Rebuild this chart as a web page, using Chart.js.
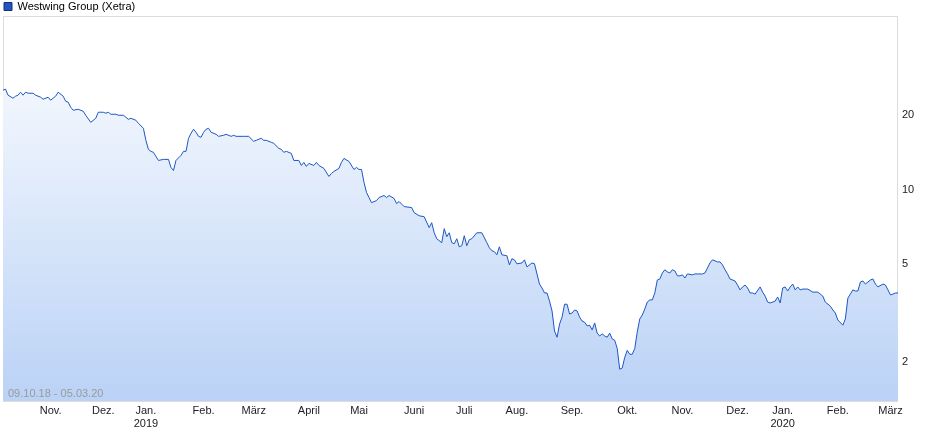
<!DOCTYPE html>
<html>
<head>
<meta charset="utf-8">
<script src="https://cdn.jsdelivr.net/npm/chart.js@4.4.1/dist/chart.umd.min.js"></script>
<style>
  html, body { margin: 0; padding: 0; background: #fff; }
  canvas { display: block; }
</style>
</head>
<body>
<canvas id="chart" width="940" height="435"></canvas>
<script>
// Westwing Group (Xetra), daily close, 09.10.18 - 05.03.20
// x = trading day index since 09.10.18
const seriesName = 'Westwing Group (Xetra)';
const rangeText = '09.10.18 - 05.03.20';

const tradingDay = [
  0, 1, 2, 4, 5, 6, 7, 8, 9, 10, 12, 13, 15, 16, 18, 19, 20, 21, 22, 24,
  25, 26, 27, 28, 30, 32, 33, 35, 37, 38, 39, 40, 41, 42, 43, 45, 46, 48, 49, 50,
  51, 53, 54, 56, 57, 58, 59, 60, 61, 62, 64, 66, 67, 68, 69, 71, 72, 73, 74, 75,
  76, 77, 78, 79, 80, 81, 82, 83, 85, 86, 88, 89, 91, 92, 93, 96, 98, 100, 101, 103,
  104, 105, 107, 108, 110, 111, 112, 113, 115, 116, 118, 119, 120, 121, 122, 124, 125, 126, 128, 130,
  131, 132, 134, 135, 136, 138, 140, 141, 142, 143, 144, 145, 146, 147, 149, 150, 152, 153, 154, 156,
  157, 158, 160, 163, 164, 166, 168, 170, 171, 172, 173, 175, 176, 177, 178, 179, 180, 181, 182, 183,
  184, 185, 186, 187, 189, 191, 193, 194, 195, 196, 197, 198, 199, 201, 202, 203, 204, 205, 207, 208,
  209, 211, 212, 213, 214, 215, 216, 217, 218, 219, 220, 221, 222, 223, 224, 225, 226, 227, 228, 229,
  230, 231, 232, 233, 234, 235, 236, 237, 238, 239, 240, 241, 242, 243, 244, 245, 246, 247, 248, 249,
  250, 251, 252, 253, 254, 255, 256, 257, 258, 259, 260, 261, 262, 263, 264, 265, 266, 267, 268, 269,
  270, 271, 272, 273, 275, 276, 277, 279, 280, 281, 282, 283, 285, 286, 287, 288, 289, 290, 292, 293,
  294, 295, 296, 297, 298, 299, 300, 302, 303, 304, 305, 306, 308, 309, 310, 311, 312, 313, 314, 315,
  316, 317, 318, 319, 320, 321, 323, 325, 326, 327, 328, 330, 331, 332, 333, 335, 336, 337, 338, 339,
  340, 341, 342, 343, 344, 346, 347, 348, 349, 351, 352, 353, 354, 355, 356, 357
];

const closePrice = [
  25.27, 25.51, 24.12, 23.45, 23.89, 24.12, 24.80, 24.12, 24.80, 24.57, 24.57, 24.12, 23.67, 23.23, 23.67, 23.01, 23.45, 23.89, 24.80, 23.89,
  22.80, 22.58, 21.55, 20.96, 21.15, 20.76, 20.00, 18.73, 19.44, 20.57, 20.57, 20.57, 20.38, 20.57, 20.19, 20.19, 20.00, 20.00, 19.63, 19.26,
  19.44, 19.09, 18.56, 17.71, 15.83, 14.55, 14.28, 14.15, 13.63, 13.12, 13.25, 13.25, 12.29, 11.95, 13.12, 13.75, 14.28, 14.28, 16.13, 16.90,
  17.55, 17.06, 16.43, 16.28, 17.06, 17.55, 17.71, 17.06, 16.74, 16.43, 16.59, 16.74, 16.43, 16.59, 16.43, 16.43, 16.43, 15.68, 15.83, 16.13,
  15.83, 15.83, 15.54, 15.39, 14.69, 14.55, 14.15, 14.28, 14.01, 13.12, 13.12, 12.52, 12.88, 12.41, 12.76, 12.52, 12.88, 12.52, 12.18, 11.30,
  11.62, 11.84, 12.18, 12.88, 13.37, 13.00, 12.06, 12.29, 12.06, 12.06, 10.68, 9.73, 9.28, 8.85, 9.02, 9.28, 9.46, 9.28, 9.46, 9.20,
  8.77, 8.94, 8.53, 8.45, 8.06, 7.83, 7.76, 7.01, 7.34, 6.68, 6.32, 6.09, 6.94, 6.44, 6.68, 6.09, 6.03, 6.32, 5.86, 5.92,
  6.50, 5.92, 6.26, 6.32, 6.68, 6.68, 6.09, 5.81, 5.65, 5.60, 5.44, 5.86, 5.44, 5.39, 4.95, 5.24, 5.19, 5.00, 5.04, 5.19,
  4.86, 5.04, 5.00, 4.55, 4.14, 3.99, 3.81, 3.81, 3.53, 3.22, 2.67, 2.52, 2.85, 3.04, 3.43, 3.43, 3.13, 3.16, 3.25, 3.22,
  3.04, 2.93, 2.90, 2.80, 2.82, 2.70, 2.88, 2.62, 2.55, 2.60, 2.55, 2.52, 2.62, 2.48, 2.45, 2.27, 1.87, 1.89, 2.09, 2.23,
  2.15, 2.15, 2.27, 2.65, 2.99, 3.10, 3.28, 3.50, 3.57, 3.57, 3.81, 4.30, 4.34, 4.59, 4.73, 4.64, 4.59, 4.73, 4.68, 4.47,
  4.47, 4.51, 4.38, 4.55, 4.51, 4.55, 4.55, 4.55, 4.59, 4.81, 5.04, 5.19, 5.09, 5.09, 4.95, 4.73, 4.55, 4.34, 4.26, 4.10,
  3.92, 4.03, 4.10, 3.99, 3.81, 3.81, 3.77, 4.03, 3.84, 3.70, 3.50, 3.47, 3.53, 3.67, 3.47, 3.99, 4.03, 3.88, 4.03, 4.14,
  3.92, 4.03, 3.92, 3.95, 3.95, 3.95, 3.84, 3.84, 3.77, 3.70, 3.50, 3.37, 3.25, 3.16, 2.96, 2.82, 2.99, 3.63, 3.77, 3.92,
  3.88, 3.88, 4.22, 4.26, 4.14, 4.30, 4.34, 4.14, 4.03, 4.14, 4.10, 3.92, 3.74, 3.77, 3.81, 3.81
];

// month ticks (first trading day of each month)
const monthDay = [19, 40, 57, 80, 100, 122, 142, 164, 184, 205, 227, 249, 271, 293, 311, 333, 354];
const monthLabel = ['Nov.', 'Dez.', ['Jan.', '2019'], 'Feb.', 'März', 'April', 'Mai', 'Juni', 'Juli',
  'Aug.', 'Sep.', 'Okt.', 'Nov.', 'Dez.', ['Jan.', '2020'], 'Feb.', 'März'];

const priceTicks = [2, 5, 10, 20];
const lastDay = 357;

const points = tradingDay.map((d, i) => ({ x: d, y: closePrice[i] }));

const font = { family: "'Liberation Sans', Arial, sans-serif", size: 11 };

const fillGradient = (ctx, area) => {
  if (!area) return '#dbe7fb';
  const g = ctx.createLinearGradient(0, area.top, 0, area.bottom);
  g.addColorStop(0, '#ffffff');
  g.addColorStop(1, '#bad2f6');
  return g;
};

// keep the legend row a fixed height
const legendFit = {
  id: 'legendFit',
  beforeInit(chart) {
    const fit = chart.legend.fit;
    chart.legend.fit = function () {
      fit.bind(chart.legend)();
      this.height = 16;
    };
  },
};

// grey frame round the plot + date range note
const frame = {
  id: 'frame',
  beforeDatasetsDraw(chart) {
    const { ctx, chartArea: a } = chart;
    ctx.save();
    ctx.strokeStyle = '#dcdcdc';
    ctx.lineWidth = 1;
    ctx.strokeRect(a.left + 0.5, a.top + 0.5, a.right - a.left - 1, a.bottom - a.top);
    ctx.restore();
  },
  afterDatasetsDraw(chart) {
    const { ctx, chartArea: a } = chart;
    ctx.save();
    ctx.font = "11px 'Liberation Sans', Arial, sans-serif";
    ctx.fillStyle = '#9a9a9a';
    ctx.textBaseline = 'alphabetic';
    ctx.fillText(rangeText, a.left + 5, a.bottom - 4);
    ctx.restore();
  },
};

new Chart(document.getElementById('chart'), {
  type: 'line',
  data: {
    datasets: [{
      label: seriesName,
      data: points,
      borderColor: '#1b57c5',
      borderWidth: 1,
      pointRadius: 0,
      tension: 0,
      fill: 'start',
      backgroundColor: (c) => fillGradient(c.chart.ctx, c.chart.chartArea),
    }],
  },
  options: {
    responsive: false,
    animation: false,
    layout: { padding: { left: 3, right: 0, top: 0, bottom: 0 } },
    plugins: {
      tooltip: { enabled: false },
      legend: {
        display: true,
        align: 'start',
        labels: {
          boxWidth: 8,
          boxHeight: 8,
          padding: 1,
          color: '#222',
          font,
          generateLabels: (chart) => [{
            text: seriesName,
            fillStyle: '#1f55c0',
            strokeStyle: '#16306e',
            lineWidth: 1,
            datasetIndex: 0,
          }],
        },
      },
    },
    scales: {
      x: {
        type: 'linear',
        min: 0,
        max: lastDay,
        grid: { display: false, drawTicks: false },
        border: { display: false },
        afterBuildTicks: (scale) => { scale.ticks = monthDay.map((v) => ({ value: v })); },
        afterFit: (scale) => { scale.height = 34; },
        ticks: {
          autoSkip: false,
          maxRotation: 0,
          padding: 3,
          color: '#222',
          font,
          callback: (v) => monthLabel[monthDay.indexOf(v)],
        },
      },
      y: {
        type: 'logarithmic',
        position: 'right',
        min: 1.39,
        max: 50.5,
        grid: { display: false, drawTicks: false },
        border: { display: false },
        afterBuildTicks: (scale) => { scale.ticks = priceTicks.map((v) => ({ value: v })); },
        afterFit: (scale) => { scale.width = 42; },
        ticks: {
          padding: 4,
          color: '#222',
          font,
          callback: (v) => String(v),
        },
      },
    },
  },
  plugins: [legendFit, frame],
});
</script>
</body>
</html>
